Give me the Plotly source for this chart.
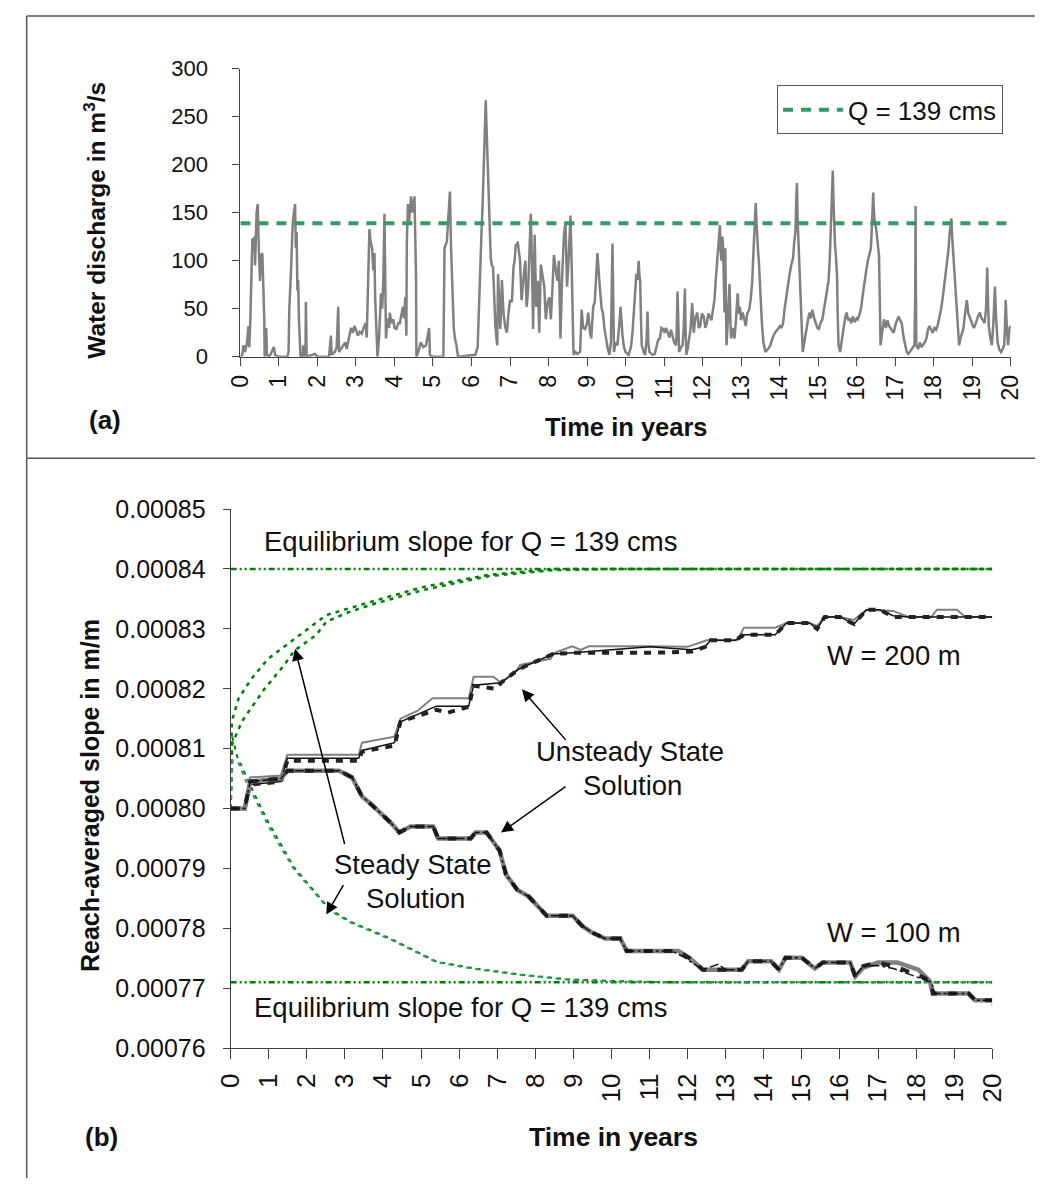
import plotly.graph_objects as go

W, H = 1049, 1192
FONT = "Arial, Liberation Sans, sans-serif"

# ---------------- (a) discharge hydrograph: (time in years, discharge in m3/s) ----------------
hydro_points = [
    (0.00, 0), (0.05, 2), (0.08, 12), (0.12, 5), (0.17, 14), (0.21, 32), (0.23, 10), (0.26, 40),
    (0.29, 90), (0.31, 123), (0.33, 110), (0.36, 125), (0.38, 95), (0.40, 140), (0.42, 150),
    (0.45, 159), (0.46, 120), (0.48, 110), (0.51, 79), (0.53, 100), (0.55, 106), (0.57, 108),
    (0.59, 85), (0.62, 40), (0.63, 0), (0.67, 30), (0.69, 2), (0.75, 0), (0.87, 10), (0.90, 2),
    (1.00, 0), (1.22, 0), (1.25, 5), (1.27, 50), (1.31, 86), (1.33, 120), (1.36, 140), (1.39, 150),
    (1.42, 159), (1.44, 113), (1.46, 130), (1.48, 69), (1.50, 80), (1.52, 39), (1.56, 0), (1.62, 0),
    (1.63, 12), (1.65, 0), (1.69, 0), (1.70, 57), (1.72, 0), (1.94, 3), (2.00, 0), (2.30, 0),
    (2.35, 22), (2.37, 2), (2.45, 5), (2.50, 10), (2.54, 52), (2.56, 5), (2.65, 10), (2.72, 15),
    (2.76, 8), (2.83, 20), (2.87, 30), (2.92, 25), (2.96, 32), (3.00, 28), (3.05, 22), (3.10, 26),
    (3.15, 24), (3.20, 30), (3.25, 35), (3.28, 20), (3.31, 69), (3.33, 100), (3.35, 133),
    (3.38, 120), (3.42, 113), (3.45, 90), (3.48, 108), (3.50, 60), (3.52, 35), (3.56, 0),
    (3.60, 20), (3.65, 66), (3.68, 50), (3.71, 79), (3.74, 149), (3.76, 60), (3.78, 19), (3.82, 40),
    (3.86, 30), (3.88, 46), (3.92, 35), (3.97, 39), (4.00, 30), (4.05, 29), (4.10, 35), (4.14, 35),
    (4.18, 45), (4.22, 52), (4.25, 40), (4.28, 62), (4.31, 22), (4.32, 117), (4.35, 159),
    (4.38, 140), (4.43, 167), (4.47, 150), (4.52, 167), (4.56, 83), (4.57, 0), (4.62, 5),
    (4.68, 15), (4.75, 10), (4.82, 12), (4.90, 30), (4.92, 2), (5.00, 0), (5.27, 0), (5.30, 113),
    (5.36, 120), (5.40, 150), (5.44, 172), (5.47, 113), (5.51, 49), (5.54, 30), (5.57, 19),
    (5.61, 12), (5.65, 0), (6.10, 2), (6.16, 10), (6.19, 50), (6.22, 100), (6.26, 130), (6.29, 160),
    (6.31, 190), (6.33, 225), (6.35, 250), (6.37, 267), (6.39, 240), (6.41, 215), (6.44, 180),
    (6.46, 167), (6.48, 130), (6.50, 103), (6.53, 95), (6.56, 93), (6.58, 73), (6.60, 50),
    (6.62, 32), (6.65, 19), (6.67, 12), (6.69, 86), (6.71, 70), (6.75, 29), (6.79, 80), (6.83, 46),
    (6.88, 30), (6.92, 25), (6.96, 45), (7.00, 59), (7.05, 57), (7.09, 93), (7.12, 100),
    (7.15, 117), (7.18, 115), (7.20, 120), (7.23, 110), (7.26, 100), (7.30, 59), (7.32, 70),
    (7.34, 79), (7.37, 90), (7.40, 100), (7.43, 52), (7.47, 69), (7.50, 100), (7.54, 149),
    (7.57, 96), (7.60, 29), (7.64, 127), (7.68, 52), (7.72, 79), (7.76, 25), (7.80, 96), (7.85, 80),
    (7.89, 73), (7.93, 39), (7.97, 55), (8.02, 62), (8.06, 39), (8.10, 70), (8.14, 106), (8.19, 90),
    (8.23, 79), (8.27, 100), (8.31, 19), (8.35, 79), (8.40, 127), (8.44, 140), (8.48, 73),
    (8.52, 100), (8.57, 147), (8.60, 96), (8.65, 2), (8.70, 5), (8.75, 3), (8.82, 5), (8.86, 49),
    (8.90, 30), (8.95, 29), (9.00, 35), (9.03, 46), (9.08, 25), (9.11, 19), (9.16, 52), (9.20, 57),
    (9.27, 108), (9.30, 85), (9.33, 73), (9.38, 50), (9.41, 46), (9.45, 30), (9.49, 19),
    (9.53, 10), (9.58, 2), (9.62, 15), (9.66, 118), (9.68, 46), (9.70, 5), (9.74, 15), (9.79, 12),
    (9.83, 30), (9.87, 52), (9.90, 35), (9.92, 22), (9.96, 10), (10.00, 5), (10.08, 2),
    (10.14, 10), (10.18, 25), (10.21, 46), (10.25, 70), (10.28, 86), (10.31, 80), (10.34, 100),
    (10.36, 85), (10.38, 79), (10.40, 40), (10.42, 12), (10.47, 5), (10.51, 2), (10.55, 20),
    (10.57, 47), (10.59, 15), (10.62, 5), (10.70, 2), (10.76, 3), (10.80, 10), (10.85, 18),
    (10.89, 19), (10.93, 30), (10.97, 29), (11.01, 25), (11.05, 30), (11.10, 25), (11.14, 20),
    (11.18, 28), (11.22, 22), (11.26, 15), (11.31, 12), (11.33, 30), (11.35, 68), (11.37, 20),
    (11.39, 5), (11.44, 10), (11.48, 12), (11.51, 30), (11.54, 71), (11.56, 25), (11.58, 2),
    (11.62, 10), (11.65, 19), (11.69, 30), (11.73, 56), (11.75, 30), (11.77, 25), (11.81, 40),
    (11.86, 46), (11.90, 30), (11.94, 32), (11.98, 45), (12.03, 42), (12.07, 30), (12.11, 35),
    (12.15, 45), (12.19, 42), (12.23, 38), (12.28, 52), (12.31, 60), (12.34, 79), (12.37, 95),
    (12.41, 113), (12.45, 137), (12.47, 110), (12.49, 100), (12.51, 125), (12.53, 117),
    (12.55, 80), (12.57, 46), (12.59, 113), (12.61, 60), (12.62, 12), (12.64, 25), (12.66, 39),
    (12.68, 60), (12.70, 76), (12.72, 40), (12.74, 19), (12.78, 30), (12.83, 19), (12.87, 40),
    (12.91, 66), (12.94, 45), (12.97, 52), (13.00, 38), (13.04, 46), (13.08, 40), (13.12, 32),
    (13.16, 45), (13.21, 49), (13.25, 60), (13.29, 79), (13.31, 100), (13.33, 120), (13.36, 140),
    (13.38, 160), (13.40, 140), (13.42, 120), (13.44, 110), (13.46, 100), (13.48, 80), (13.50, 59),
    (13.52, 45), (13.54, 35), (13.58, 15), (13.63, 5), (13.70, 8), (13.76, 12), (13.82, 20),
    (13.88, 25), (13.94, 28), (14.01, 32), (14.05, 30), (14.09, 35), (14.13, 50), (14.18, 66),
    (14.22, 75), (14.26, 86), (14.30, 95), (14.35, 103), (14.38, 120), (14.41, 130), (14.43, 160),
    (14.45, 181), (14.47, 140), (14.50, 106), (14.53, 70), (14.56, 46), (14.58, 20), (14.60, 5),
    (14.64, 15), (14.68, 25), (14.72, 35), (14.77, 46), (14.81, 40), (14.85, 49), (14.90, 40),
    (14.94, 35), (14.98, 30), (15.02, 29), (15.06, 35), (15.11, 39), (15.15, 50), (15.19, 59),
    (15.23, 70), (15.27, 79), (15.30, 100), (15.32, 127), (15.35, 150), (15.38, 194), (15.40, 160),
    (15.42, 127), (15.44, 115), (15.46, 106), (15.48, 95), (15.49, 86), (15.51, 40), (15.53, 12),
    (15.57, 5), (15.61, 15), (15.65, 29), (15.70, 40), (15.74, 46), (15.78, 38), (15.82, 40),
    (15.86, 35), (15.90, 42), (15.95, 36), (16.00, 40), (16.03, 39), (16.08, 45), (16.12, 52),
    (16.16, 65), (16.20, 79), (16.25, 90), (16.29, 100), (16.33, 108), (16.37, 113), (16.40, 140),
    (16.43, 171), (16.45, 150), (16.47, 140), (16.50, 135), (16.52, 127), (16.55, 120),
    (16.58, 106), (16.60, 60), (16.62, 12), (16.66, 25), (16.71, 39), (16.76, 30), (16.80, 38),
    (16.84, 32), (16.90, 28), (16.96, 25), (17.02, 35), (17.06, 40), (17.09, 42), (17.13, 38),
    (17.17, 35), (17.22, 20), (17.26, 12), (17.30, 5), (17.34, 3), (17.38, 5), (17.43, 8),
    (17.47, 10), (17.50, 12), (17.52, 60), (17.53, 157), (17.54, 60), (17.55, 12), (17.60, 8),
    (17.64, 15), (17.68, 10), (17.72, 12), (17.77, 15), (17.81, 19), (17.85, 28), (17.89, 32),
    (17.93, 28), (17.97, 25), (18.02, 30), (18.06, 28), (18.10, 32), (18.15, 40), (18.19, 49),
    (18.23, 60), (18.27, 73), (18.31, 85), (18.35, 96), (18.38, 110), (18.41, 127), (18.44, 135),
    (18.46, 144), (18.48, 125), (18.50, 113), (18.53, 95), (18.56, 79), (18.58, 70), (18.60, 59),
    (18.63, 35), (18.66, 12), (18.70, 20), (18.74, 25), (18.77, 29), (18.80, 40), (18.83, 50),
    (18.86, 59), (18.90, 45), (18.95, 39), (19.00, 35), (19.04, 30), (19.07, 32), (19.11, 38),
    (19.15, 42), (19.20, 46), (19.24, 40), (19.28, 38), (19.32, 35), (19.36, 50), (19.39, 93),
    (19.41, 60), (19.43, 32), (19.47, 20), (19.51, 12), (19.55, 35), (19.59, 73), (19.62, 40),
    (19.66, 15), (19.70, 8), (19.75, 5), (19.79, 8), (19.83, 12), (19.85, 30), (19.87, 59),
    (19.90, 30), (19.93, 12), (19.96, 25), (19.98, 32), (20.00, 30),
]
hydro_t = [p[0] for p in hydro_points]
hydro_q = [p[1] for p in hydro_points]
Q_REF = 139  # constant discharge used for the equilibrium runs

# ---------------- (b) reach-averaged slope ----------------
years_span = [0, 20]
S_EQ_HIGH = 0.000840   # equilibrium slope, W = 200 m
S_EQ_LOW = 0.000771    # equilibrium slope, W = 100 m

# steady-state (constant Q) solutions, W = 200 m
ss200a_t = [0, 0.03, 0.21, 0.55, 0.98, 1.66, 2.51, 3.78, 5.06, 6.76, 8.46, 20]
ss200a_s = [0.000800, 0.0008146, 0.0008184, 0.0008217, 0.000825, 0.0008283, 0.0008323,
            0.0008347, 0.000837, 0.000839, 0.000840, 0.000840]
ss200b_t = [0, 0.04, 0.30, 0.55, 0.89, 1.40, 1.66, 2.25, 2.51, 3.10, 3.78, 5.06, 6.76, 8.46, 10, 20]
ss200b_s = [0.000800, 0.0008108, 0.0008146, 0.0008168, 0.000820, 0.0008239, 0.0008263, 0.000829,
            0.0008312, 0.0008328, 0.0008342, 0.0008365, 0.0008388, 0.0008398, 0.000840, 0.000840]

# steady-state (constant Q) solutions, W = 100 m
ss100a_t = [0, 0.04, 0.17, 0.47, 0.64, 0.98, 1.32, 1.66, 2.17, 2.60, 3.19, 4.21, 5.40, 6.34,
            7.62, 8.89, 10.17, 11.5, 20]
ss100a_s = [0.000800, 0.000812, 0.0008087, 0.00080435, 0.0008022, 0.0007978, 0.000794, 0.0007902,
            0.0007864, 0.00078315, 0.00078098, 0.00077826, 0.00077446, 0.00077337, 0.00077228,
            0.00077147, 0.0007712, 0.000771, 0.000771]
ss100b_t = [0, 0.05, 0.20, 0.47, 0.64, 0.98, 1.32, 1.66, 2.17, 2.60, 3.19, 4.21, 5.40, 6.34,
            7.62, 8.89, 10.17, 11.5, 20]
ss100b_s = [0.000800, 0.000808, 0.0008077, 0.0008035, 0.0008016, 0.0007972, 0.0007935, 0.0007899,
            0.0007862, 0.0007830, 0.00078085, 0.0007781, 0.00077436, 0.00077327, 0.0007722,
            0.0007714, 0.0007711, 0.000771, 0.000771]

# unsteady (hydrograph-driven) solutions, W = 200 m
us200_grey_t = [0, 0.37, 0.51, 1.32, 1.49, 3.36, 3.45, 4.30, 4.46, 4.90, 5.30, 6.25, 6.38, 6.90,
                7.10, 7.50, 7.60, 8.40, 8.50, 8.97, 9.20, 9.40, 11.0, 12.0, 12.5, 13.3, 13.48,
                14.3, 14.6, 15.2, 15.4, 15.6, 16.0, 16.37, 16.7, 17.4, 17.8, 18.4, 18.55, 19.07,
                19.3, 20.0]
us200_grey_s = [0.000800, 0.000800, 0.0008052, 0.0008055, 0.000809, 0.000809, 0.000811, 0.000812,
                0.000815, 0.0008163, 0.0008184, 0.0008184, 0.000822, 0.000822, 0.000821, 0.000823,
                0.000824, 0.000825, 0.000826, 0.0008271, 0.0008265, 0.0008271, 0.0008271, 0.000827,
                0.0008281, 0.0008281, 0.0008302, 0.0008302, 0.000831, 0.000831, 0.0008305, 0.000832,
                0.000832, 0.0008315, 0.0008332, 0.000833, 0.000832, 0.000832, 0.0008332, 0.0008332,
                0.000832, 0.000832]
us200_thin_t = [0, 0.37, 0.51, 1.32, 1.49, 3.36, 3.45, 4.30, 4.46, 5.40, 6.25, 6.38, 7.10, 7.57,
                8.46, 9.00, 11.0, 12.1, 12.46, 12.6, 13.25, 13.48, 14.3, 14.6, 15.2, 15.4, 15.6,
                16.0, 16.37, 16.7, 17.05, 17.4, 17.8, 20.0]
us200_thin_s = [0.000800, 0.000800, 0.000804, 0.0008045, 0.0008084, 0.0008084, 0.0008097, 0.000811,
                0.0008145, 0.0008171, 0.0008171, 0.0008206, 0.000821, 0.0008233, 0.0008258, 0.000826,
                0.000827, 0.0008265, 0.000827, 0.0008281, 0.0008281, 0.000829, 0.000829, 0.000831,
                0.000831, 0.00083, 0.000832, 0.000832, 0.0008308, 0.0008332, 0.0008332, 0.0008322,
                0.000832, 0.000832]
us200_dash_t = [0, 0.37, 0.51, 1.32, 1.49, 3.36, 3.45, 4.30, 4.46, 5.40, 5.70, 6.25, 6.38, 6.95,
                7.10, 7.57, 8.46, 9.00, 11.0, 12.1, 12.46, 12.6, 13.25, 13.48, 14.3, 14.6, 15.2,
                15.4, 15.6, 16.0, 16.37, 16.7, 17.05, 17.4, 17.8, 20.0]
us200_dash_s = [0.000800, 0.000800, 0.000804, 0.0008045, 0.000808, 0.000808, 0.0008095, 0.0008105,
                0.0008145, 0.0008165, 0.000816, 0.000817, 0.0008205, 0.00082, 0.000821, 0.0008233,
                0.0008258, 0.000826, 0.000826, 0.0008262, 0.000827, 0.0008281, 0.0008281, 0.000829,
                0.000829, 0.000831, 0.000831, 0.00083, 0.000832, 0.000832, 0.0008308, 0.0008332,
                0.0008332, 0.000832, 0.000832, 0.000832]

# unsteady (hydrograph-driven) solutions, W = 100 m
us100_grey_t = [0, 0.37, 0.51, 1.32, 1.49, 2.85, 3.19, 3.45, 3.62, 4.21, 4.43, 4.72, 5.32, 5.45,
                6.30, 6.43, 6.72, 7.06, 7.23, 7.53, 7.83, 8.00, 8.30, 8.98, 9.23, 9.49, 9.83,
                10.23, 10.40, 11.76, 12.06, 12.40, 13.42, 13.59, 14.19, 14.40, 14.57, 15.00,
                15.34, 15.55, 16.27, 16.40, 16.61, 17.00, 17.50, 18.06, 18.36, 18.44, 19.38,
                19.55, 20.0]
us100_grey_s = [0.000800, 0.000800, 0.0008045, 0.000805, 0.0008063, 0.0008063, 0.0008052, 0.000802,
                0.0008011, 0.0007976, 0.000796, 0.000797, 0.000797, 0.000795, 0.000795, 0.000796,
                0.000796, 0.000793, 0.000789, 0.0007864, 0.0007853, 0.0007842, 0.0007821, 0.0007821,
                0.0007804, 0.0007793, 0.0007783, 0.0007783, 0.0007762, 0.0007762, 0.000775,
                0.0007731, 0.0007731, 0.0007745, 0.0007745, 0.0007731, 0.0007751, 0.0007751,
                0.0007733, 0.0007743, 0.0007743, 0.000772, 0.0007734, 0.0007743, 0.0007743,
                0.0007731, 0.0007712, 0.0007691, 0.0007691, 0.000768, 0.000768]
us100_dash_t = [0, 0.37, 0.51, 1.32, 1.49, 2.85, 3.19, 3.45, 3.62, 4.21, 4.43, 4.72, 5.32, 5.45,
                6.30, 6.43, 6.72, 7.06, 7.23, 7.53, 7.83, 8.00, 8.30, 8.98, 9.23, 9.49, 9.83,
                10.23, 10.40, 11.76, 12.06, 12.40, 13.42, 13.59, 14.19, 14.40, 14.57, 15.00,
                15.34, 15.55, 16.27, 16.40, 16.61, 17.00, 17.50, 18.20, 18.40, 18.44, 19.38,
                19.55, 20.0]
us100_dash_s = [0.000800, 0.000800, 0.0008045, 0.000805, 0.0008063, 0.0008063, 0.0008052, 0.000802,
                0.0008011, 0.0007976, 0.000796, 0.000797, 0.000797, 0.000795, 0.000795, 0.000796,
                0.000796, 0.000793, 0.000789, 0.0007864, 0.0007853, 0.0007842, 0.0007821, 0.0007821,
                0.0007804, 0.0007793, 0.0007783, 0.0007783, 0.0007762, 0.0007762, 0.000775,
                0.0007731, 0.0007731, 0.0007745, 0.0007745, 0.0007731, 0.0007751, 0.0007751,
                0.0007733, 0.0007743, 0.0007743, 0.000772, 0.0007737, 0.0007743, 0.0007735,
                0.0007718, 0.000771, 0.0007691, 0.0007691, 0.000768, 0.000768]
us100_dot_t = [0, 0.37, 0.51, 1.32, 1.49, 2.85, 3.19, 3.45, 3.62, 4.21, 4.43, 4.72, 5.32, 5.45,
               6.30, 6.43, 6.72, 7.06, 7.23, 7.53, 7.83, 8.00, 8.30, 8.98, 9.23, 9.49, 9.83,
               10.23, 10.40, 11.60, 11.90, 12.06, 12.40, 12.80, 13.00, 13.42, 13.59, 14.19,
               14.40, 14.57, 15.00, 15.34, 15.55, 16.27, 16.40, 16.61, 17.00, 17.40, 18.10,
               18.40, 18.50, 19.38, 19.55, 19.95, 20.0]
us100_dot_s = [0.000800, 0.000800, 0.0008045, 0.000805, 0.0008063, 0.0008063, 0.0008052, 0.000802,
               0.0008011, 0.0007976, 0.000796, 0.000797, 0.000797, 0.000795, 0.000795, 0.000796,
               0.000796, 0.000793, 0.000789, 0.0007864, 0.0007853, 0.0007842, 0.0007821, 0.0007821,
               0.0007804, 0.0007793, 0.0007783, 0.0007783, 0.0007762, 0.0007762, 0.0007752,
               0.0007745, 0.0007731, 0.000774, 0.0007731, 0.0007731, 0.0007745, 0.0007745,
               0.0007731, 0.0007751, 0.0007751, 0.0007733, 0.0007743, 0.0007743, 0.000772,
               0.0007737, 0.0007738, 0.0007733, 0.0007716, 0.000771, 0.0007691, 0.0007691,
               0.000768, 0.000768, 0.0007672]

fig = go.Figure()

# ---- panel (a) ----
fig.add_trace(go.Scatter(x=hydro_t, y=hydro_q, mode="lines", xaxis="x", yaxis="y",
                         line=dict(color="#808080", width=2.5), showlegend=False))
fig.add_trace(go.Scatter(x=years_span, y=[Q_REF, Q_REF], mode="lines", xaxis="x", yaxis="y",
                         name="Q = 139 cms",
                         line=dict(color="#339966", width=4, dash="10px,8px")))

# ---- panel (b) ----
def add_b(t, s, color, width, dash):
    fig.add_trace(go.Scatter(x=t, y=s, mode="lines", xaxis="x2", yaxis="y2",
                             line=dict(color=color, width=width, dash=dash),
                             showlegend=False))


EQ_DASH = "6px,3px,2px,3px,2px,3px"
add_b(years_span, [S_EQ_HIGH, S_EQ_HIGH], "#008000", 2.5, EQ_DASH)
add_b(years_span, [S_EQ_LOW, S_EQ_LOW], "#008000", 2.5, EQ_DASH)
add_b(ss200a_t, ss200a_s, "#008000", 2.5, "4px,5px")
add_b(ss200b_t, ss200b_s, "#008000", 2.5, "4px,5px")
add_b(ss100a_t, ss100a_s, "#008000", 2, "4px,5px")
add_b(ss100b_t, ss100b_s, "#339966", 2, "4px,5px")

add_b(us200_grey_t, us200_grey_s, "#808080", 2, "solid")
add_b(us200_thin_t, us200_thin_s, "#111111", 1.5, "solid")
add_b(us200_dash_t, us200_dash_s, "#222222", 4, "7px,7px")

add_b(us100_grey_t, us100_grey_s, "#808080", 4.5, "solid")
add_b(us100_dash_t, us100_dash_s, "#222222", 4, "9px,11px")
add_b(us100_dot_t, us100_dot_s, "#111111", 1.5, "dashdot")


# page pixel -> paper fraction
def px(x):
    return x / W


def py(y):
    return 1 - y / H


axis_common = dict(showgrid=False, zeroline=False, showline=True, linecolor="#404040",
                   linewidth=1, ticks="outside", tickcolor="#404040", tickwidth=1)

fig.update_layout(
    width=W, height=H,
    margin=dict(l=0, r=0, t=0, b=0),
    paper_bgcolor="white", plot_bgcolor="white",
    font=dict(family=FONT, color="#111111"),
    xaxis=dict(domain=[px(231), px(1024)], range=[0, 20], dtick=1, tick0=0, tickangle=-90,
               ticklen=8, anchor="y", tickfont=dict(family=FONT, size=23, color="#111111"),
               **axis_common),
    yaxis=dict(domain=[py(351), py(56)], range=[0, 300], dtick=50, tick0=0, ticklen=7,
               ticklabelstandoff=20, anchor="x",
               tickfont=dict(family=FONT, size=22, color="#111111"), **axis_common),
    xaxis2=dict(domain=[px(221), px(1005)], range=[0, 20], dtick=1, tick0=0, tickangle=-90,
                ticklen=10, ticklabelstandoff=4, anchor="y2",
                tickfont=dict(family=FONT, size=26, color="#111111"), **axis_common),
    yaxis2=dict(domain=[py(1059), py(507)], range=[0.00076, 0.00085], dtick=0.00001,
                tick0=0.00076, tickformat=".5f", ticklen=7, ticklabelstandoff=12,
                anchor="x2", tickfont=dict(family=FONT, size=25, color="#111111"),
                **axis_common),
    legend=dict(x=px(1016), y=py(73), xanchor="right", yanchor="top",
                bgcolor="white", bordercolor="#555555", borderwidth=1,
                font=dict(family=FONT, size=26, color="#111111"),
                itemwidth=60, tracegroupgap=0),
    showlegend=True,
)

# panel frames
frame = dict(type="line", xref="paper", yref="paper", line=dict(color="#555555", width=1.5))
fig.add_shape(x0=px(11), x1=px(11), y0=0, y1=py(2), **frame)
fig.add_shape(x0=px(11), x1=1, y0=py(2), y1=py(2), **frame)
fig.add_shape(x0=px(11), x1=1, y0=py(455), y1=py(455), **frame)


def label(text, x, y, size, bold=False, angle=0):
    fig.add_annotation(text=f"<b>{text}</b>" if bold else text, xref="paper", yref="paper",
                       x=px(x), y=py(y), xanchor="center", yanchor="middle",
                       textangle=angle, showarrow=False,
                       font=dict(family=FONT, size=size, color="#111111"))


# axis titles and panel tags
label("Water discharge in m<sup>3</sup>/s", 80, 211, 24.5, bold=True, angle=-90)
label("Time in years", 628, 423, 25.5, bold=True)
label("(a)", 92, 416, 26, bold=True)
label("Reach-averaged slope in m/m", 76, 800, 25, bold=True, angle=-90)
label("Time in years", 615, 1150, 26.5, bold=True)
label("(b)", 88, 1150, 26, bold=True)

# in-plot labels, panel (b)
label("Equilibrium slope for Q = 139 cms", 468, 540, 27.5)
label("Equilibrium slope for Q = 139 cms", 458, 1017, 27.5)
label("W = 200 m", 904, 657, 27.5)
label("W = 100 m", 904, 941, 27.5)
label("Unsteady State", 632, 755, 27.5)
label("Solution", 635, 790, 27.5)
label("Steady State", 408, 871, 27.5)
label("Solution", 411, 906, 27.5)

# pointer arrows (head in data units, tail offset in pixels)
arrows = [
    (1.69, 0.0008267, 50, 197),
    (2.51, 0.0007823, 18, -31),
    (7.65, 0.0008199, 45, 52),
    (7.10, 0.0007960, 66, -47),
]
for ax_t, ax_s, dx, dy in arrows:
    fig.add_annotation(x=ax_t, y=ax_s, xref="x2", yref="y2", ax=dx, ay=dy, text="",
                       showarrow=True, arrowhead=2, arrowsize=1.6, arrowwidth=1.5,
                       arrowcolor="#000000")

fig.write_html("out.html", post_script="document.body.style.margin='0px';")
